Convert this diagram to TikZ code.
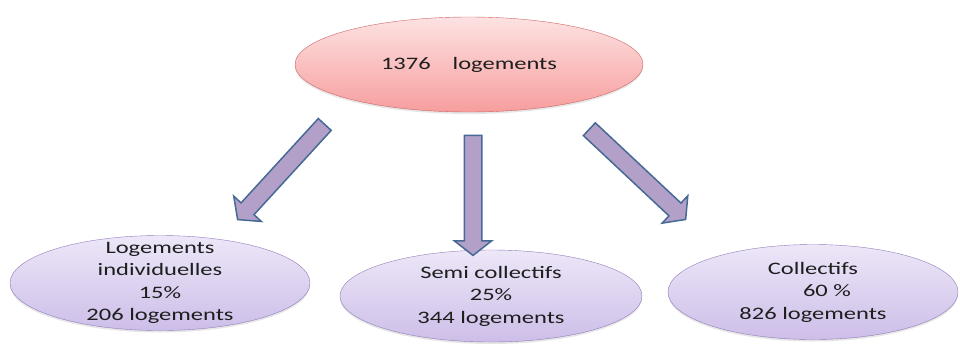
\documentclass[tikz,border=0pt]{standalone}
\usepackage{fontspec}
\setmainfont{Carlito}[FakeStretch=1.4]
\usetikzlibrary{shapes.geometric,shapes.arrows,shadows}
\definecolor{pinktop}{RGB}{253,226,226}
\definecolor{pinkbot}{RGB}{247,158,158}
\definecolor{pinkline}{RGB}{205,100,100}
\definecolor{lilactop}{RGB}{237,231,248}
\definecolor{lilacbot}{RGB}{205,190,232}
\definecolor{lilacline}{RGB}{145,125,185}
\definecolor{arrowfill}{RGB}{178,160,200}
\definecolor{arrowline}{RGB}{70,105,150}
\definecolor{txt}{RGB}{30,30,30}

\begin{document}
\begin{tikzpicture}[x=1pt,y=-1pt,
  font=\fontsize{17.5}{22.5}\selectfont, text=txt,
  total/.style={ellipse, draw=pinkline, top color=pinktop, bottom color=pinkbot,
    drop shadow={shadow xshift=0pt, shadow yshift=-2pt, opacity=0.2}},
  kind/.style={ellipse, draw=lilacline, top color=lilactop, bottom color=lilacbot,
    align=center, inner sep=-12pt,
    drop shadow={shadow xshift=0pt, shadow yshift=-2pt, opacity=0.2}},
  bigarrow/.style={single arrow, draw=arrowline, fill=arrowfill, line width=1.5pt,
    inner xsep=0pt, inner ysep=8pt, minimum width=36pt,
    single arrow head extend=10pt, single arrow tip angle=104,
    midway, sloped, allow upside down}]
\useasboundingbox (0,0) rectangle (960,343);
\node[total, minimum width=348pt, minimum height=95pt] (all) at (469,64.5) {1376\hspace*{22pt}logements};
\node[kind, minimum width=300pt, minimum height=95pt] (indiv) at (160,283) {Logements\\individuelles\\15\%\\206 logements};
\node[kind, minimum width=302pt, minimum height=92pt] (semi) at (491,296) {Semi collectifs\\25\%\\344 logements};
\node[kind, minimum width=290pt, minimum height=95pt] (coll) at (813,292) {Collectifs\\\hspace*{28pt}60 \%\\826 logements};
% arrow ends
\coordinate (lt) at (327,122);
\coordinate (lh) at (240,217);
\coordinate (mt) at (473,132);
\coordinate (mh) at (473,252);
\coordinate (rt) at (587,127);
\coordinate (rh) at (683,217);
\path (lt) -- (lh) node[bigarrow, minimum height=129pt] (toindiv) {};
\path (mt) -- (mh) node[bigarrow, minimum height=120pt] (tosemi) {};
\path (rt) -- (rh) node[bigarrow, minimum height=132pt] (tocoll) {};
\end{tikzpicture}
\end{document}
